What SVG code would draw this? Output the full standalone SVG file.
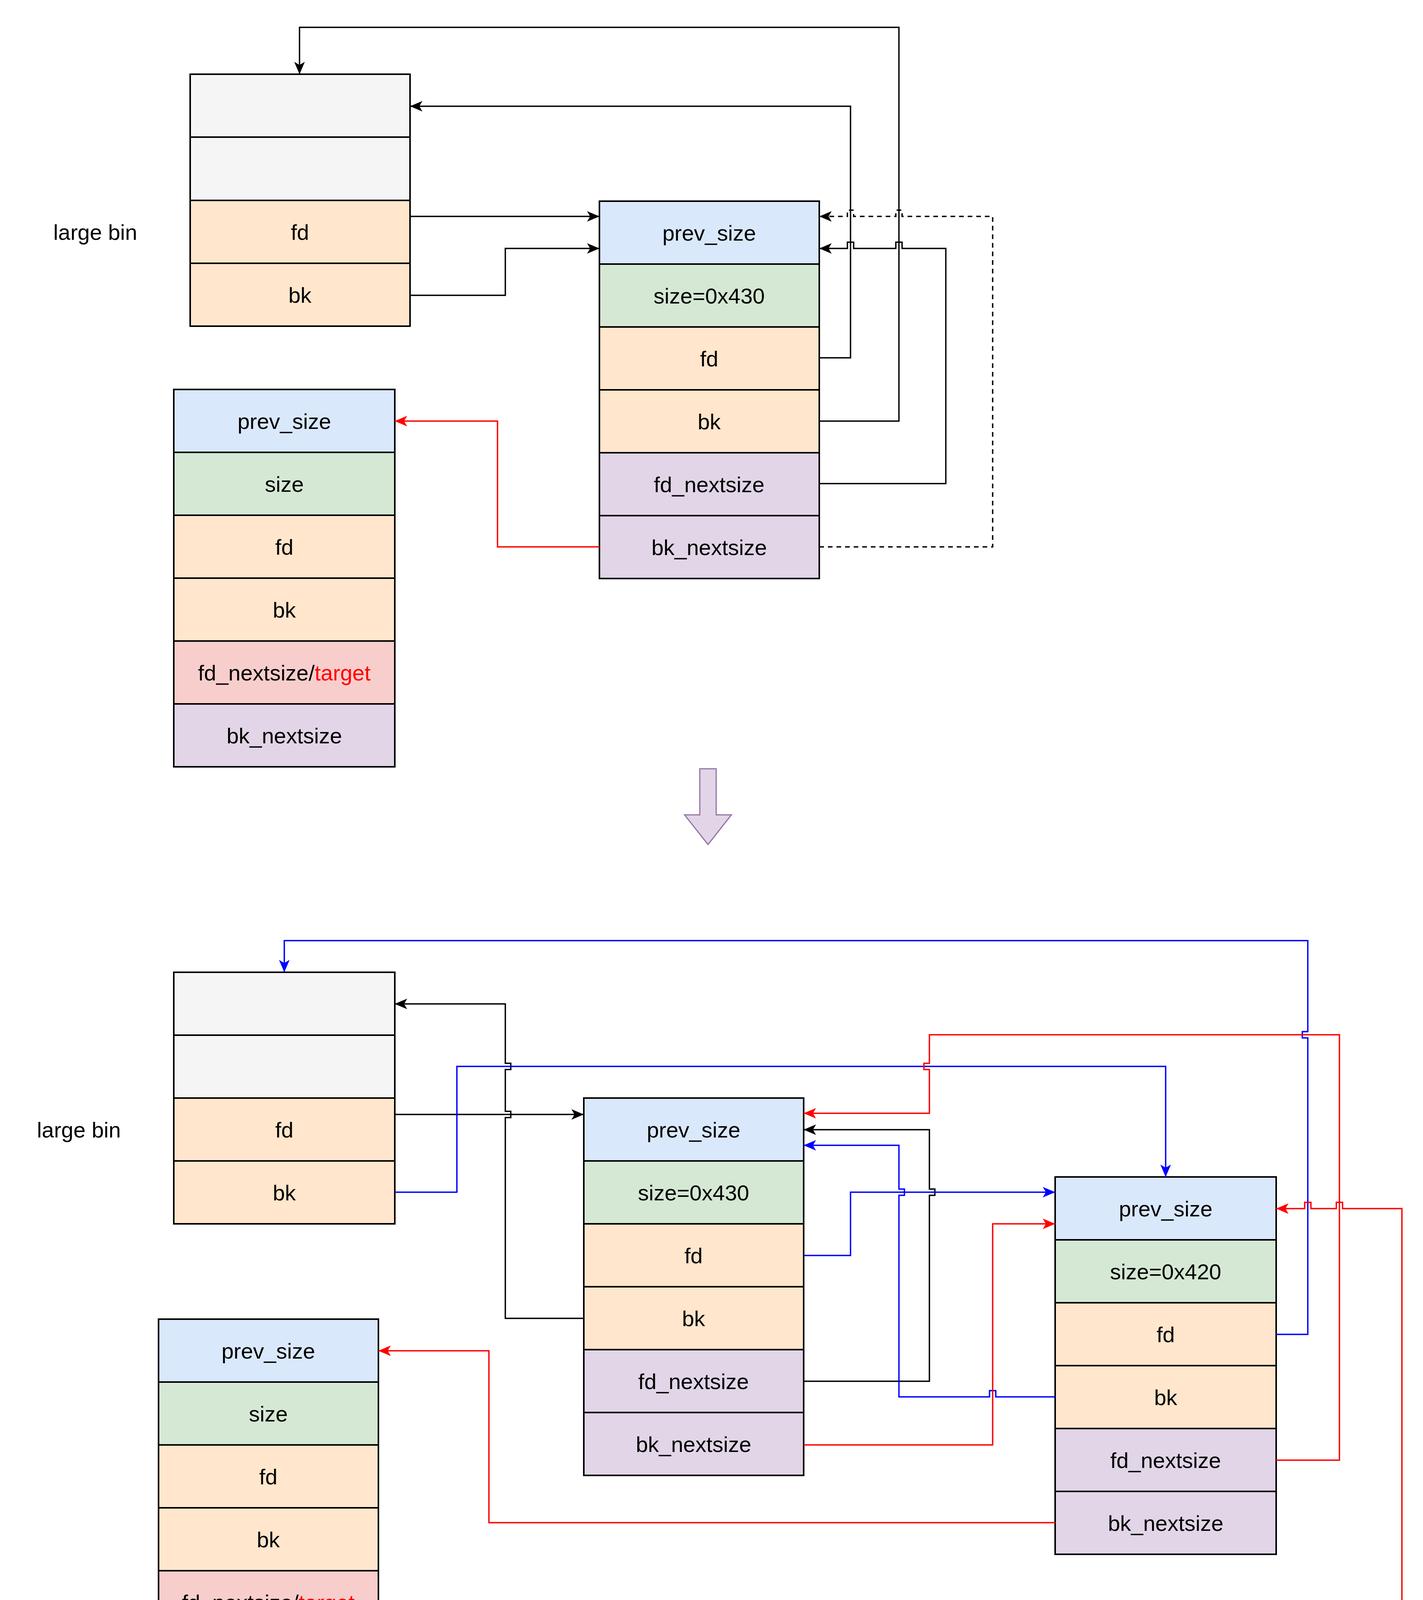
<svg xmlns="http://www.w3.org/2000/svg" width="3644" height="4356" viewBox="0 0 3644 4356">
<style>
rect{stroke:#000;stroke-width:4}
.e{fill:#f5f5f5}.p{fill:#dae8fc}.s{fill:#d5e8d4}.o{fill:#ffe6cc}.n{fill:#e1d5e7}.t{fill:#f8cecc}
text{font-family:"Liberation Sans",Arial,sans-serif;font-size:56px;text-anchor:middle;dominant-baseline:central;fill:#000}
.c path{fill:none;stroke-width:3.5}
.k{stroke:#000;marker-end:url(#ak)}.b{stroke:#0000ff;marker-end:url(#ab)}.r{stroke:#ff0000;marker-end:url(#ar)}
.d{stroke-dasharray:12 10}
</style>
<defs>
<marker id="ak" markerUnits="userSpaceOnUse" viewBox="0 0 30 30" refX="28" refY="15" markerWidth="34" markerHeight="34" orient="auto"><path d="M0,3 L28,15 L0,27 L7,15 Z" fill="#000"/></marker>
<marker id="ab" markerUnits="userSpaceOnUse" viewBox="0 0 30 30" refX="28" refY="15" markerWidth="34" markerHeight="34" orient="auto"><path d="M0,3 L28,15 L0,27 L7,15 Z" fill="#0000ff"/></marker>
<marker id="ar" markerUnits="userSpaceOnUse" viewBox="0 0 30 30" refX="28" refY="15" markerWidth="34" markerHeight="34" orient="auto"><path d="M0,3 L28,15 L0,27 L7,15 Z" fill="#ff0000"/></marker>
</defs>
<rect width="3644" height="4356" fill="#fff" style="stroke:none"/>

<text x="244" y="594">large bin</text>
<g id="bin1">
<rect class="e" x="487" y="190" width="563" height="161"/>
<rect class="e" x="487" y="351" width="563" height="162"/>
<rect class="o" x="487" y="513" width="563" height="161"/><text x="768" y="594">fd</text>
<rect class="o" x="487" y="674" width="563" height="161"/><text x="768" y="755">bk</text>
</g>
<g id="chunk1">
<rect class="p" x="1535" y="515" width="563" height="161"/><text x="1816" y="596">prev_size</text>
<rect class="s" x="1535" y="676" width="563" height="161"/><text x="1816" y="757">size=0x430</text>
<rect class="o" x="1535" y="837" width="563" height="161"/><text x="1816" y="918">fd</text>
<rect class="o" x="1535" y="998" width="563" height="161"/><text x="1816" y="1079">bk</text>
<rect class="n" x="1535" y="1159" width="563" height="161"/><text x="1816" y="1240">fd_nextsize</text>
<rect class="n" x="1535" y="1320" width="563" height="161"/><text x="1816" y="1401">bk_nextsize</text>
</g>
<g id="victim1">
<rect class="p" x="445" y="997" width="566" height="161"/><text x="728" y="1078">prev_size</text>
<rect class="s" x="445" y="1158" width="566" height="161"/><text x="728" y="1239">size</text>
<rect class="o" x="445" y="1319" width="566" height="161"/><text x="728" y="1400">fd</text>
<rect class="o" x="445" y="1480" width="566" height="161"/><text x="728" y="1561">bk</text>
<rect class="t" x="445" y="1641" width="566" height="161"/><text x="728" y="1722">fd_nextsize/<tspan fill="#ff0000">target</tspan></text>
<rect class="n" x="445" y="1802" width="566" height="161"/><text x="728" y="1883">bk_nextsize</text>
</g>
<g id="c1" class="c">
<path class="k" d="M1050,554 H1535"/>
<path class="k" d="M1050,756 H1294 V636 H1535"/>
<path class="k" d="M2098,916 H2178 V272 H1050"/>
<path class="k" d="M2098,1078 H2302 V70 H767 V190"/>
<path class="k" d="M2098,1238 H2422 V636 H2310 v-16 h-16 v16 H2186 v-16 h-16 v16 H2098"/>
<path class="k d" d="M2098,1400 H2542 V554 H2310 v-16 h-16 v16 H2186 v-16 h-16 v16 H2098"/>
<path class="r" d="M1535,1400 H1274 V1078 H1011"/>
</g>
<g id="arrow">
<path d="M1792,1968 H1834 V2086 H1873 L1813,2162 L1753,2086 H1792 Z" fill="#e1d5e7" stroke="#9673a6" stroke-width="3"/>
</g>

<text x="202" y="2892">large bin</text>
<g id="bin2">
<rect class="e" x="445" y="2489" width="566" height="161"/>
<rect class="e" x="445" y="2650" width="566" height="161"/>
<rect class="o" x="445" y="2811" width="566" height="161"/><text x="728" y="2892">fd</text>
<rect class="o" x="445" y="2972" width="566" height="161"/><text x="728" y="3053">bk</text>
</g>
<g id="chunkA">
<rect class="p" x="1495" y="2811" width="563" height="161"/><text x="1776" y="2892">prev_size</text>
<rect class="s" x="1495" y="2972" width="563" height="161"/><text x="1776" y="3053">size=0x430</text>
<rect class="o" x="1495" y="3133" width="563" height="161"/><text x="1776" y="3214">fd</text>
<rect class="o" x="1495" y="3294" width="563" height="161"/><text x="1776" y="3375">bk</text>
<rect class="n" x="1495" y="3455" width="563" height="161"/><text x="1776" y="3536">fd_nextsize</text>
<rect class="n" x="1495" y="3616" width="563" height="161"/><text x="1776" y="3697">bk_nextsize</text>
</g>
<g id="chunkB">
<rect class="p" x="2702" y="3013" width="566" height="161"/><text x="2985" y="3094">prev_size</text>
<rect class="s" x="2702" y="3174" width="566" height="161"/><text x="2985" y="3255">size=0x420</text>
<rect class="o" x="2702" y="3335" width="566" height="161"/><text x="2985" y="3416">fd</text>
<rect class="o" x="2702" y="3496" width="566" height="161"/><text x="2985" y="3577">bk</text>
<rect class="n" x="2702" y="3657" width="566" height="161"/><text x="2985" y="3738">fd_nextsize</text>
<rect class="n" x="2702" y="3818" width="566" height="161"/><text x="2985" y="3899">bk_nextsize</text>
</g>
<g id="victim2">
<rect class="p" x="406" y="3377" width="563" height="161"/><text x="687" y="3458">prev_size</text>
<rect class="s" x="406" y="3538" width="563" height="161"/><text x="687" y="3619">size</text>
<rect class="o" x="406" y="3699" width="563" height="161"/><text x="687" y="3780">fd</text>
<rect class="o" x="406" y="3860" width="563" height="161"/><text x="687" y="3941">bk</text>
<rect class="t" x="406" y="4021" width="563" height="161"/><text x="687" y="4102">fd_nextsize/<tspan fill="#ff0000">target</tspan></text>
<rect class="n" x="406" y="4182" width="563" height="161"/><text x="687" y="4263">bk_nextsize</text>
</g>
<g id="c2" class="c">
<path class="k" d="M1011,2853 H1495"/>
<path class="k" d="M1495,3375 H1294 V2861 h14 v-16 h-14 V2738 h14 v-16 h-14 V2570 H1011"/>
<path class="k" d="M2058,3536 H2380 V3060 h14 v-16 h-14 V2892 H2058"/>
<path class="b" d="M1011,3052 H1170 V2730 H2985 V3013"/>
<path class="b" d="M2058,3214 H2178 V3052 H2702"/>
<path class="b" d="M2702,3576 H2550 v-16 h-16 v16 H2302 V3060 h14 v-16 h-14 V2932 H2058"/>
<path class="b" d="M3268,3416 H3349 V2657 h-14 v-16 h14 V2408 H728 V2489"/>
<path class="r" d="M2058,3699 H2542 V3133 H2702"/>
<path class="r" d="M3268,3738 H3430 V2649 H2380 V2722 h-14 v16 h14 V2850 H2058"/>
<path class="r" d="M2702,3898 H1252 V3458 H969"/>
<path class="r" d="M969,4102 H3590 V3094 H3438 v-16 h-16 v16 H3357 v-16 h-16 v16 H3268"/>
</g>
</svg>
